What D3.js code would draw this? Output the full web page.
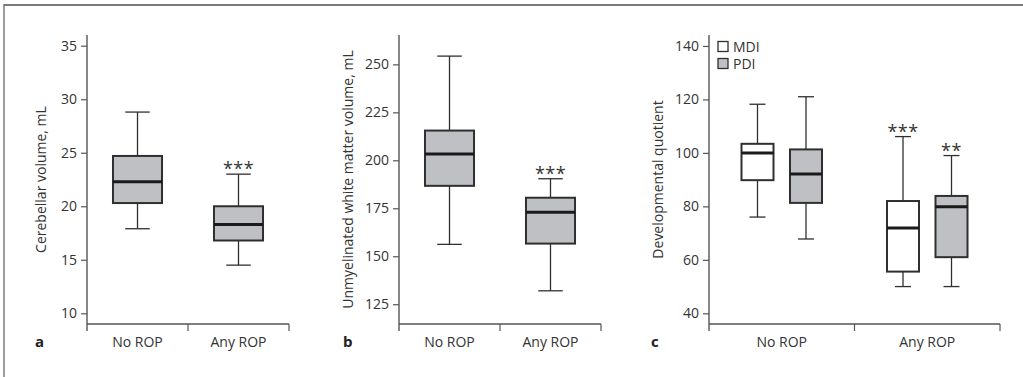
<!DOCTYPE html>
<html>
<head>
<meta charset="utf-8">
<script src="https://cdn.jsdelivr.net/npm/d3@7"></script>
<style>
  html, body { margin: 0; padding: 0; background: #fff; }
  svg { display: block; font-family: "Open Sans", "Noto Sans", sans-serif; }
</style>
</head>
<body>
<svg id="chart" width="1023" height="377"></svg>
<script>
// ---- data: five-number summaries [low whisker, Q1, median, Q3, high whisker]
const groups = ["No ROP", "Any ROP"];
const cerebellarStats = [[17.9, 20.3, 22.3, 24.7, 28.8], [14.5, 16.8, 18.3, 20.0, 23.0]];
const whiteMatterStats = [[156.2, 186.7, 203.3, 215.5, 254.3], [132.0, 156.6, 172.9, 180.5, 190.4]];
const mdiStats = [[76.0, 89.8, 100.0, 103.4, 118.2], [50.0, 55.6, 71.9, 82.0, 106.1]];
const pdiStats = [[67.8, 81.3, 92.1, 101.3, 121.0], [50.0, 61.0, 79.9, 83.9, 99.0]];
const cerebellarSig = ["", "***"];
const whiteMatterSig = ["", "***"];
const mdiSig = ["", "***"];
const pdiSig = ["", "**"];
const series = ["MDI", "PDI"];
const cerebellarTicks = [10, 15, 20, 25, 30, 35];
const whiteMatterTicks = [125, 150, 175, 200, 225, 250];
const quotientTicks = [40, 60, 80, 100, 120, 140];

const svg = d3.select("#chart");
const GRAY = "#bfc0c4";
const INK = "#2f2f2f";
const AXIS = "#555";

// page frame: top rule and left rule
svg.append("line").attr("x1", 4).attr("x2", 1023).attr("y1", 5).attr("y2", 5)
  .attr("stroke", "#7a7a7a").attr("stroke-width", 2);
svg.append("line").attr("x1", 4).attr("x2", 4).attr("y1", 4).attr("y2", 377)
  .attr("stroke", "#7a7a7a").attr("stroke-width", 1.5);

const plotTop = 35, plotBottom = 324;

function panel(opts) {
  const g = svg.append("g");
  const x = d3.scaleBand().domain(groups).range([opts.x0, opts.x1]).padding(0);
  const y = d3.scaleLinear().domain(opts.domain).range([plotBottom, plotTop]);

  // y axis
  const ya = g.append("g").attr("transform", `translate(${opts.x0},0)`)
    .call(d3.axisLeft(y).tickValues(opts.ticks).tickSize(6).tickPadding(4));
  ya.select(".domain").remove();
  ya.selectAll(".tick line").attr("stroke", AXIS).attr("stroke-width", 1.2);
  ya.selectAll(".tick text").attr("fill", "#333").style("font-size", "14px")
    .style("font-family", "'Open Sans', sans-serif");
  g.append("line").attr("x1", opts.x0).attr("x2", opts.x0).attr("y1", plotTop).attr("y2", plotBottom + 7)
    .attr("stroke", AXIS).attr("stroke-width", 1.4);

  // x axis: baseline with ticks on the category boundaries
  g.append("line").attr("x1", opts.x0).attr("x2", opts.x1).attr("y1", plotBottom).attr("y2", plotBottom)
    .attr("stroke", AXIS).attr("stroke-width", 1.4);
  const bounds = groups.map(d => x(d)).concat([x(groups[groups.length - 1]) + x.bandwidth()]);
  g.selectAll(".xb").data(bounds.slice(1)).join("line")
    .attr("x1", d => d).attr("x2", d => d).attr("y1", plotBottom).attr("y2", plotBottom + 7)
    .attr("stroke", AXIS).attr("stroke-width", 1.2);
  g.selectAll(".xl").data(groups).join("text")
    .attr("x", d => x(d) + x.bandwidth() / 2).attr("y", 347)
    .attr("text-anchor", "middle").attr("fill", "#333").style("font-size", "14px")
    .text(d => d);

  // panel letter
  g.append("text").attr("x", opts.letterX).attr("y", 347).attr("fill", "#222")
    .style("font-size", "15px").style("font-weight", "bold").text(opts.letter);

  // y title
  g.append("text")
    .attr("transform", `translate(${opts.titleX},${(plotTop + plotBottom) / 2}) rotate(-90)`)
    .attr("text-anchor", "middle").attr("fill", "#333").style("font-size", "14px")
    .text(opts.title);

  // boxes
  const sub = d3.scaleBand().domain(opts.series).range([0, x.bandwidth()])
    .paddingInner(opts.padIn).paddingOuter(opts.padOut);
  opts.series.forEach((s, si) => {
    const stats = opts.stats[si];
    const sig = opts.sig[si];
    groups.forEach((grp, gi) => {
      const [lo, q1, med, q3, hi] = stats[gi];
      const bw = sub.bandwidth();
      const bx = x(grp) + sub(s);
      const cx = bx + bw / 2;
      const cap = bw / 2;
      const b = g.append("g");
      b.append("line").attr("x1", cx).attr("x2", cx).attr("y1", y(hi)).attr("y2", y(q3))
        .attr("stroke", INK).attr("stroke-width", 1.3);
      b.append("line").attr("x1", cx).attr("x2", cx).attr("y1", y(q1)).attr("y2", y(lo))
        .attr("stroke", INK).attr("stroke-width", 1.3);
      b.append("line").attr("x1", cx - cap / 2).attr("x2", cx + cap / 2).attr("y1", y(hi)).attr("y2", y(hi))
        .attr("stroke", INK).attr("stroke-width", 1.3);
      b.append("line").attr("x1", cx - cap / 2).attr("x2", cx + cap / 2).attr("y1", y(lo)).attr("y2", y(lo))
        .attr("stroke", INK).attr("stroke-width", 1.3);
      b.append("rect").attr("x", bx).attr("y", y(q3)).attr("width", bw).attr("height", y(q1) - y(q3))
        .attr("fill", opts.fills[si]).attr("stroke", INK).attr("stroke-width", 2);
      b.append("line").attr("x1", bx).attr("x2", bx + bw).attr("y1", y(med)).attr("y2", y(med))
        .attr("stroke", "#1a1a1a").attr("stroke-width", 3);
      if (sig[gi]) {
        b.append("text").attr("x", cx).attr("y", y(hi) + 1).attr("text-anchor", "middle")
          .attr("fill", "#333").style("font-size", "18px").style("letter-spacing", "0.5px")
          .text(sig[gi]);
      }
    });
  });
}

panel({ x0: 87, x1: 289, domain: [9, 36], ticks: cerebellarTicks, letter: "a", letterX: 35,
  title: "Cerebellar volume, mL", titleX: 46, series: ["all"], stats: [cerebellarStats],
  sig: [cerebellarSig], fills: [GRAY], padIn: 0, padOut: 0.53 });
panel({ x0: 399, x1: 601, domain: [114.7, 265.3], ticks: whiteMatterTicks, letter: "b", letterX: 343,
  title: "Unmyelinated white matter volume, mL", titleX: 353, series: ["all"], stats: [whiteMatterStats],
  sig: [whiteMatterSig], fills: [GRAY], padIn: 0, padOut: 0.53 });
panel({ x0: 709, x1: 1000, domain: [36, 144.1], ticks: quotientTicks, letter: "c", letterX: 651,
  title: "Developmental quotient", titleX: 663, series: series, stats: [mdiStats, pdiStats],
  sig: [mdiSig, pdiSig], fills: ["#fff", GRAY], padIn: 0.34, padOut: 0.67 });

// legend for panel c
const legend = svg.append("g");
const lg = d3.scaleBand().domain(series).range([41, 75]).padding(0);
legend.selectAll("rect").data(series).join("rect")
  .attr("x", 718).attr("y", d => lg(d) + 0.5).attr("width", 10).attr("height", 10)
  .attr("fill", d => d === "MDI" ? "#fff" : GRAY).attr("stroke", INK).attr("stroke-width", 1.3);
legend.selectAll("text").data(series).join("text")
  .attr("x", 733).attr("y", d => lg(d) + 11).attr("fill", "#333").style("font-size", "14px")
  .text(d => d);
</script>
</body>
</html>
